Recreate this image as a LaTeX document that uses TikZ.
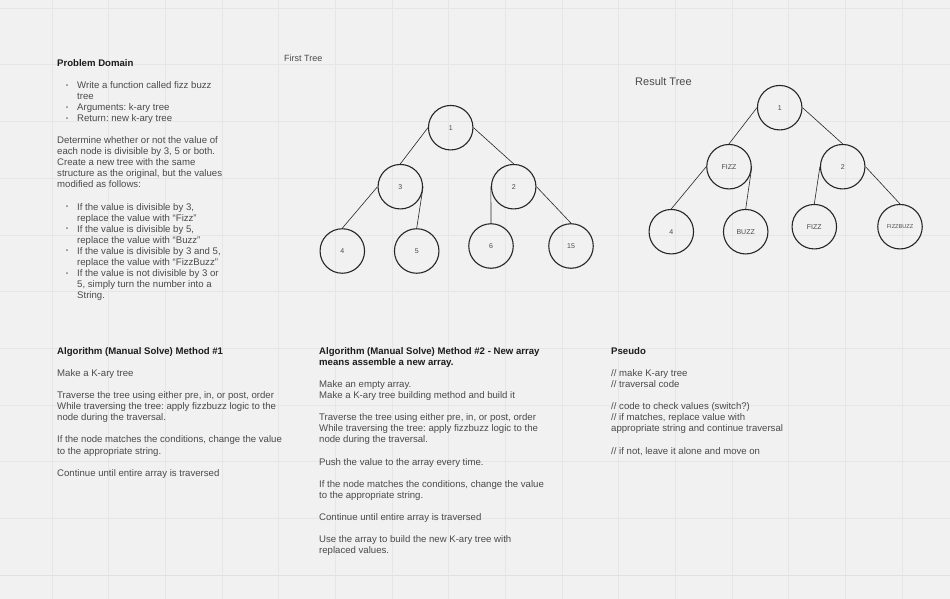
\documentclass[tikz,border=0pt]{standalone}
\usepackage{fontspec}
\setmainfont{Liberation Sans}
\usetikzlibrary{positioning}

\definecolor{canvas}{HTML}{F1F1F1}
\definecolor{gridline}{HTML}{E6E6E6}
\definecolor{gridedge}{HTML}{E0E0E0}
\definecolor{bodytext}{HTML}{4A4A4A}
\definecolor{headtext}{HTML}{1C1C1C}
\definecolor{ink}{HTML}{262626}

% bullet rows for the lists
\newcommand{\bulitem}{\hspace*{9pt}\makebox[11pt][l]{\raisebox{1.3pt}{\scalebox{0.6}{\textbullet}}}}
\newcommand{\bulcont}{\hspace*{20pt}}
\newcommand{\heading}[1]{\textcolor{headtext}{\textbf{#1}}}
\frenchspacing

\begin{document}
\begin{tikzpicture}[
    x=1pt, y=-1pt,
    on grid,
    treenode/.style={circle, draw=ink, line width=1.1pt, minimum size=44.5pt, inner sep=0pt, text=bodytext, font=\fontsize{7}{8}\selectfont},
    edge/.style={draw=ink, line width=0.6pt},
    textblock/.style={anchor=north west, inner sep=0pt, align=left, text=bodytext, font=\fontsize{9.6}{11.05}\selectfont},
    caption/.style={anchor=west, inner sep=0pt, text=bodytext, font=\fontsize{9}{11}\selectfont}
]

% Canvas and grid
\fill[canvas] (0,0) rectangle (950,599);
\useasboundingbox (0,0) rectangle (950,599);
\foreach \gx in {-4.7,52,108.7,165.3,222,278.7,335.3,392,448.7,505.3,562,618.7,675.3,732,788.7,845.3,902}
    \draw[gridline, line width=0.8pt] (\gx,0) -- (\gx,599);
\foreach \gy in {8,64.8,121.5,178.2,235,291.7,348.4,405,461.8,518.5}
    \draw[gridline, line width=0.8pt] (0,\gy) -- (950,\gy);
\draw[gridedge, line width=1.2pt] (0,575.5) -- (950,575.5);

% Problem Domain
\node (problem) [textblock] at (57,59.2) {%
\heading{Problem Domain}\\[11.05pt]
\bulitem Write a function called fizz buzz\\
\bulcont tree\\
\bulitem Arguments: k-ary tree\\
\bulitem Return: new k-ary tree\\[11.05pt]
Determine whether or not the value of\\
each node is divisible by 3, 5 or both.\\
Create a new tree with the same\\
structure as the original, but the values\\
modified as follows:\\[11.05pt]
\bulitem If the value is divisible by 3,\\
\bulcont replace the value with ``Fizz''\\
\bulitem If the value is divisible by 5,\\
\bulcont replace the value with ``Buzz''\\
\bulitem If the value is divisible by 3 and 5,\\
\bulcont replace the value with ``FizzBuzz''\\
\bulitem If the value is not divisible by 3 or\\
\bulcont 5, simply turn the number into a\\
\bulcont String.};

% First Tree
\node (first_title) [caption] at (284,58) {First Tree};
\node (first_1) [treenode] at (450.7,127.7) {1};
\node (first_3) [treenode, below left=59pt and 50.4pt of first_1] {3};
\node (first_2) [treenode, below right=59pt and 63pt of first_1] {2};
\node (first_4) [treenode, below left=64.3pt and 58pt of first_3] {4};
\node (first_5) [treenode, below right=64.3pt and 16.4pt of first_3] {5};
\node (first_6) [treenode, below left=59.3pt and 22.7pt of first_2] {6};
\node (first_15) [treenode, below right=59.3pt and 57.3pt of first_2] {15};

\draw [edge] (first_1.west) -- (first_3.north);
\draw [edge] (first_1.east) -- (first_2.north);
\draw [edge] (first_3.west) -- (first_4.north);
\draw [edge] (first_3.east) -- (first_5.north);
\draw [edge] (first_2.west) -- (first_6.north);
\draw [edge] (first_2.east) -- (first_15.north);

% Result Tree
\node (result_title) [caption, font=\fontsize{11}{13}\selectfont] at (635,82) {Result Tree};
\node (result_1) [treenode] at (779.7,107.7) {1};
\node (result_fizz) [treenode, below left=59pt and 50.7pt of result_1] {FIZZ};
\node (result_2) [treenode, below right=59pt and 63pt of result_1] {2};
\node (result_4) [treenode, below left=65pt and 57.7pt of result_fizz] {4};
\node (result_buzz) [treenode, below right=65pt and 16.7pt of result_fizz] {BUZZ};
\node (result_fizz_b) [treenode, below left=60pt and 28.4pt of result_2] {FIZZ};
\node (result_fizzbuzz) [treenode, below right=60pt and 57.3pt of result_2, font=\fontsize{5.6}{6}\selectfont] {FIZZBUZZ};

\draw [edge] (result_1.west) -- (result_fizz.north);
\draw [edge] (result_1.east) -- (result_2.north);
\draw [edge] (result_fizz.west) -- (result_4.north);
\draw [edge] (result_fizz.east) -- (result_buzz.north);
\draw [edge] (result_2.west) -- (result_fizz_b.north);
\draw [edge] (result_2.east) -- (result_fizzbuzz.north);

% Algorithm Method #1
\node (method_one) [textblock] at (57,347.4) {%
\heading{Algorithm (Manual Solve) Method \#1}\\[11.05pt]
Make a K-ary tree\\[11.05pt]
Traverse the tree using either pre, in, or post, order\\
While traversing the tree: apply fizzbuzz logic to the\\
node during the traversal.\\[11.05pt]
If the node matches the conditions, change the value\\
to the appropriate string.\\[11.05pt]
Continue until entire array is traversed};

% Algorithm Method #2
\node (method_two) [textblock] at (319,347.4) {%
\heading{Algorithm (Manual Solve) Method \#2 - New array}\\
\heading{means assemble a new array.}\\[11.05pt]
Make an empty array.\\
Make a K-ary tree building method and build it\\[11.05pt]
Traverse the tree using either pre, in, or post, order\\
While traversing the tree: apply fizzbuzz logic to the\\
node during the traversal.\\[11.05pt]
Push the value to the array every time.\\[11.05pt]
If the node matches the conditions, change the value\\
to the appropriate string.\\[11.05pt]
Continue until entire array is traversed\\[11.05pt]
Use the array to build the new K-ary tree with\\
replaced values.};

% Pseudo
\node (pseudo) [textblock] at (611,347.4) {%
\heading{Pseudo}\\[11.05pt]
// make K-ary tree\\
// traversal code\\[11.05pt]
// code to check values (switch?)\\
// if matches, replace value with\\
appropriate string and continue traversal\\[11.05pt]
// if not, leave it alone and move on};

\end{tikzpicture}
\end{document}
